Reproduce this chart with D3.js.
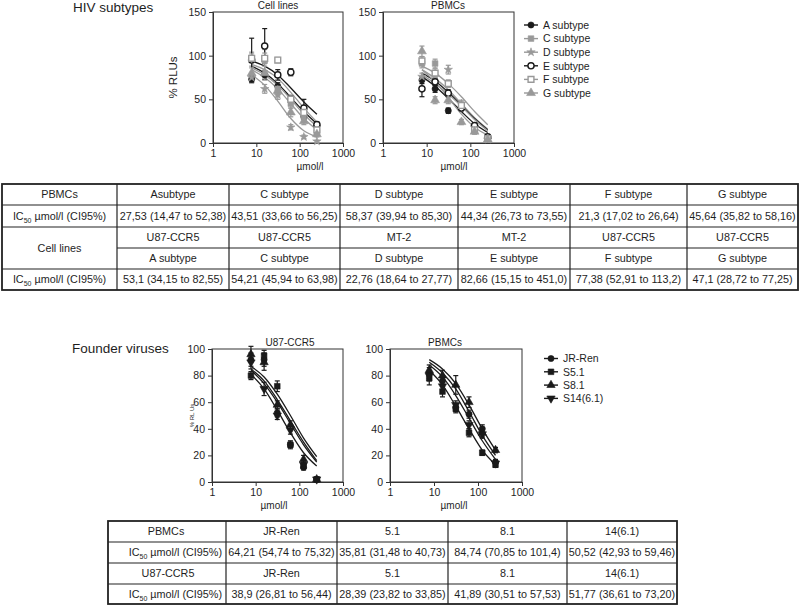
<!DOCTYPE html>
<html><head><meta charset="utf-8">
<script src="https://cdn.jsdelivr.net/npm/d3@7"></script>
<style>
body{margin:0;background:#fff}
svg{display:block}
text{font-family:"Liberation Sans",Arial,Helvetica,sans-serif;fill:#1e1e1e}
</style>
</head><body>
<svg id="chart" width="800" height="605"></svg>
<script>
// ---------- data ----------
const concentrations = [7.8, 15.6, 31.25, 62.5, 125, 250];
const xTicks = [1, 10, 100, 1000];
const yTicksTop = [0, 50, 100, 150];
const yTicksBottom = [0, 20, 40, 60, 80, 100];

const subtypeNames = ["A subtype", "C subtype", "D subtype", "E subtype", "F subtype", "G subtype"];
const founderNames = ["JR-Ren", "S5.1", "S8.1", "S14(6.1)"];

// HIV subtypes – cell lines (% RLUs)
const cellLinesA = [73, 78, 65, 50, 30, 20];
const cellLinesC = [96, 95, 62, 45, 30, 12];
const cellLinesD = [75, 62, 55, 18, 7, 2];
const cellLinesE = [95, 111, 78, 81, 40, 21];
const cellLinesF = [97, 97, 95, 50, 35, 15];
const cellLinesG = [80, 80, 60, 35, 25, 10];
const cellLinesErr = [[4,5,4,4,3,2],[8,12,5,5,4,3],[5,5,5,3,2,1],[25,20,6,4,10,3],[5,6,3,5,4,3],[6,8,6,5,4,3]];
const cellLinesFitA = [88, 80, 68, 52, 36, 22];
const cellLinesFitC = [86, 78, 66, 50, 33, 19];
const cellLinesFitD = [78, 66, 48, 28, 14, 7];
const cellLinesFitE = [94, 88, 78, 63, 47, 33];
const cellLinesFitF = [90, 84, 74, 58, 40, 24];
const cellLinesFitG = [84, 75, 62, 45, 28, 15];

// HIV subtypes – PBMCs (% RLUs)
const pbmcA = [72, 62, 37, 41, 20, 5];
const pbmcC = [91, 91, 68, 41, 18, 6];
const pbmcD = [76, 76, 84, 45, 18, 4];
const pbmcE = [62, 70, 57, 40, 20, 7];
const pbmcF = [94, 80, 68, 43, 15, 5];
const pbmcG = [105, 49, 49, 24, 13, 4];
const pbmcErr = [[4,4,3,3,2,2],[5,5,4,4,3,2],[4,5,5,4,3,2],[9,4,4,3,3,2],[5,5,4,4,3,2],[6,4,4,3,3,2]];
const pbmcFitA = [76, 65, 51, 36, 22, 12];
const pbmcFitC = [84, 74, 61, 45, 29, 16];
const pbmcFitD = [88, 80, 68, 53, 36, 21];
const pbmcFitE = [80, 71, 58, 43, 28, 15];
const pbmcFitF = [84, 70, 52, 33, 18, 9];
const pbmcFitG = [78, 68, 56, 42, 27, 14];

// Founder viruses – U87-CCR5 (% RLUs)
const u87JR = [92, 92, 52, 28, 11, 2];
const u87S5 = [80, 95, 72, 28, 12, 2];
const u87S8 = [96, 90, 58, 43, 17, 2];
const u87S14 = [90, 70, 50, 39, 13, 2];
const u87Err = [[5,5,3,3,2,1],[3,4,4,2,2,1],[6,6,3,3,3,1],[5,5,3,3,2,1]];
const u87FitJR = [84, 74, 60, 44, 28, 15];
const u87FitS5 = [81, 70, 54, 37, 22, 12];
const u87FitS8 = [85, 76, 62, 46, 30, 16];
const u87FitS14 = [87, 79, 66, 50, 33, 19];

// Founder viruses – PBMCs (% RLUs)
const fpbmcJR = [82, 76, 56, 51, 40, 15];
const fpbmcS5 = [78, 68, 55, 37, 22, 13];
const fpbmcS8 = [84, 80, 73, 60, 37, 24];
const fpbmcS14 = [80, 72, 58, 43, 36, 14];
const fpbmcErr = [[4,4,3,3,3,2],[5,4,3,3,2,2],[4,4,7,4,3,2],[4,4,3,3,3,2]];
const fpbmcFitJR = [90, 82, 70, 53, 35, 20];
const fpbmcFitS5 = [84, 73, 57, 40, 24, 13];
const fpbmcFitS8 = [92, 85, 74, 58, 40, 24];
const fpbmcFitS14 = [88, 79, 65, 48, 31, 17];

// tables
const topPbmcHeaders = ["Asubtype", "C subtype", "D subtype", "E subtype", "F subtype", "G subtype"];
const topPbmcIC50 = ["27,53 (14,47 to 52,38)", "43,51 (33,66 to 56,25)", "58,37 (39,94 to 85,30)", "44,34 (26,73 to 73,55)", "21,3 (17,02 to 26,64)", "45,64 (35,82 to 58,16)"];
const topCellHosts = ["U87-CCR5", "U87-CCR5", "MT-2", "MT-2", "U87-CCR5", "U87-CCR5"];
const topCellSubtypes = ["A subtype", "C subtype", "D subtype", "E subtype", "F subtype", "G subtype"];
const topCellIC50 = ["53,1 (34,15 to 82,55)", "54,21 (45,94 to 63,98)", "22,76 (18,64 to 27,77)", "82,66 (15,15 to 451,0)", "77,38 (52,91 to 113,2)", "47,1 (28,72 to 77,25)"];
const bottomHeaders = ["JR-Ren", "5.1", "8.1", "14(6.1)"];
const bottomPbmcIC50 = ["64,21 (54,74 to 75,32)", "35,81 (31,48 to 40,73)", "84,74 (70,85 to 101,4)", "50,52 (42,93 to 59,46)"];
const bottomU87IC50 = ["38,9 (26,81 to 56,44)", "28,39 (23,82 to 33,85)", "41,89 (30,51 to 57,53)", "51,77 (36,61 to 73,20)"];

// ---------- styles ----------
const BLACK = "#1a1a1a", GREY = "#999999";
const subtypeStyles = [
  {color: BLACK, sym: d3.symbolCircle, fill: BLACK, size: 30},
  {color: GREY, sym: d3.symbolSquare, fill: GREY, size: 32},
  {color: GREY, sym: d3.symbolStar, fill: GREY, size: 22},
  {color: BLACK, sym: d3.symbolCircle, fill: "#fff", size: 30, sw: 1.4},
  {color: GREY, sym: d3.symbolSquare, fill: "#fff", size: 34, sw: 1.4},
  {color: GREY, sym: d3.symbolTriangle, fill: GREY, size: 34}
];
const founderStyles = [
  {color: BLACK, sym: d3.symbolCircle, fill: BLACK, size: 30},
  {color: BLACK, sym: d3.symbolSquare, fill: BLACK, size: 32},
  {color: BLACK, sym: d3.symbolTriangle, fill: BLACK, size: 30},
  {color: BLACK, sym: d3.symbolTriangle, fill: BLACK, size: 30, rot: 180}
];

const svg = d3.select("#chart");
svg.append("rect").attr("width", 800).attr("height", 605).attr("fill", "#fff");

function drawPanel(o) {
  const g = svg.append("g");
  const x = d3.scaleLog().domain([1, 1000]).range([o.left, o.right]);
  const y = d3.scaleLinear().domain([0, o.yMax]).range([o.bottom, o.top]);
  g.append("rect").attr("x", o.left).attr("y", o.top)
    .attr("width", o.right - o.left).attr("height", o.bottom - o.top)
    .attr("fill", "none").attr("stroke", "#333").attr("stroke-width", 1);
  const xa = g.append("g").attr("transform", `translate(0,${o.bottom})`)
    .call(d3.axisBottom(x).tickValues(xTicks).tickFormat(d3.format("d")).tickSize(4).tickPadding(3));
  const ya = g.append("g").attr("transform", `translate(${o.left},0)`)
    .call(d3.axisLeft(y).tickValues(o.yTicks).tickSize(4).tickPadding(3));
  [xa, ya].forEach(a => {
    a.select(".domain").attr("stroke", "#333");
    a.selectAll(".tick line").attr("stroke", "#333");
    a.selectAll("text").attr("font-size", 10.5).attr("fill", "#1e1e1e")
      .attr("font-family", '"Liberation Sans",Arial,sans-serif');
  });
  g.append("text").attr("x", o.titleX).attr("y", o.top - 3).attr("text-anchor", "middle")
    .attr("font-size", 10).text(o.title);
  g.append("text").attr("x", o.xLabelX).attr("y", o.bottom + 27).attr("text-anchor", "middle")
    .attr("font-size", 10).text("µmol/l");
  if (o.yLabel) {
    g.append("text").attr("transform", `translate(${o.yLabelX},${(o.top + o.bottom) / 2}) rotate(-90)`)
      .attr("text-anchor", "middle").attr("font-size", o.yLabelSize).text(o.yLabel);
  }
  const line = d3.line().x((d, i) => x(concentrations[i])).y(d => y(d)).curve(d3.curveMonotoneX);
  o.fits.forEach((f, k) => {
    g.append("path").attr("d", line(f)).attr("fill", "none")
      .attr("stroke", o.styles[k].color).attr("stroke-width", 1.3);
  });
  o.points.forEach((s, k) => {
    const st = o.styles[k];
    s.forEach((v, i) => {
      const e = o.errors[k][i];
      const cx = x(concentrations[i]);
      g.append("line").attr("x1", cx).attr("x2", cx).attr("y1", y(v - e)).attr("y2", y(v + e))
        .attr("stroke", st.color).attr("stroke-width", 1.2);
      [v - e, v + e].forEach(t => g.append("line").attr("x1", cx - 2.5).attr("x2", cx + 2.5)
        .attr("y1", y(t)).attr("y2", y(t)).attr("stroke", st.color).attr("stroke-width", 1.2));
    });
  });
  o.points.forEach((s, k) => {
    const st = o.styles[k];
    s.forEach((v, i) => {
      g.append("path").attr("d", d3.symbol().type(st.sym).size(st.size)())
        .attr("transform", `translate(${x(concentrations[i])},${y(v)}) rotate(${st.rot || 0})`)
        .attr("fill", st.fill).attr("stroke", st.color).attr("stroke-width", st.sw || 0.6);
    });
  });
}

function drawLegend(names, styles, lx, ly, step) {
  names.forEach((n, i) => {
    const st = styles[i], yy = ly + i * step;
    svg.append("line").attr("x1", lx - 7).attr("x2", lx + 7).attr("y1", yy).attr("y2", yy)
      .attr("stroke", st.color).attr("stroke-width", 1.4);
    svg.append("path").attr("d", d3.symbol().type(st.sym).size(st.size)())
      .attr("transform", `translate(${lx},${yy}) rotate(${st.rot || 0})`)
      .attr("fill", st.fill).attr("stroke", st.color).attr("stroke-width", st.sw || 0.6);
    svg.append("text").attr("x", lx + 12).attr("y", yy + 3.7).attr("font-size", 10.5).text(n);
  });
}

svg.append("text").attr("x", 73).attr("y", 12).attr("font-size", 13.5).text("HIV subtypes");
svg.append("text").attr("x", 72).attr("y", 353).attr("font-size", 13.5).text("Founder viruses");

drawPanel({left: 213, right: 343, top: 12, bottom: 143, yMax: 150, yTicks: yTicksTop,
  title: "Cell lines", titleX: 278, xLabelX: 310, yLabel: "% RLUs", yLabelX: 177, yLabelSize: 11.5,
  points: [cellLinesA, cellLinesC, cellLinesD, cellLinesE, cellLinesF, cellLinesG],
  errors: cellLinesErr,
  fits: [cellLinesFitA, cellLinesFitC, cellLinesFitD, cellLinesFitE, cellLinesFitF, cellLinesFitG],
  styles: subtypeStyles});
drawPanel({left: 383, right: 514, top: 12, bottom: 143, yMax: 150, yTicks: yTicksTop,
  title: "PBMCs", titleX: 448, xLabelX: 454,
  points: [pbmcA, pbmcC, pbmcD, pbmcE, pbmcF, pbmcG],
  errors: pbmcErr,
  fits: [pbmcFitA, pbmcFitC, pbmcFitD, pbmcFitE, pbmcFitF, pbmcFitG],
  styles: subtypeStyles});
drawLegend(subtypeNames, subtypeStyles, 531, 25, 13.6);

drawPanel({left: 212, right: 343, top: 349, bottom: 482, yMax: 100, yTicks: yTicksBottom,
  title: "U87-CCR5", titleX: 290, xLabelX: 274, yLabel: "% RL Us", yLabelX: 194, yLabelSize: 6,
  points: [u87JR, u87S5, u87S8, u87S14], errors: u87Err,
  fits: [u87FitJR, u87FitS5, u87FitS8, u87FitS14], styles: founderStyles});
drawPanel({left: 390, right: 522, top: 349, bottom: 482, yMax: 100, yTicks: yTicksBottom,
  title: "PBMCs", titleX: 445, xLabelX: 454,
  points: [fpbmcJR, fpbmcS5, fpbmcS8, fpbmcS14], errors: fpbmcErr,
  fits: [fpbmcFitJR, fpbmcFitS5, fpbmcFitS8, fpbmcFitS14], styles: founderStyles});
drawLegend(founderNames, founderStyles, 551, 358.5, 13.3);

// ---------- tables ----------
const TFS = 10.8;
function cellText(cx, cy, txt, anchor) {
  const t = svg.append("text").attr("x", cx).attr("y", cy + 3.9).attr("font-size", TFS)
    .attr("text-anchor", anchor || "middle");
  if (txt === "IC50") {
    t.append("tspan").text("IC");
    t.append("tspan").attr("font-size", 7).attr("dy", 2.6).text("50");
    t.append("tspan").attr("dy", -2.6).text(" µmol/l (CI95%)");
  } else t.text(txt);
}
function drawTable(cols, rows, cells, hLines) {
  const g = svg.append("g");
  hLines.forEach(h => g.append("line").attr("x1", h.x1).attr("x2", cols[cols.length - 1])
    .attr("y1", rows[h.r]).attr("y2", rows[h.r]).attr("stroke", "#222").attr("stroke-width", 1.2));
  cols.slice(1, -1).forEach(c => g.append("line").attr("x1", c).attr("x2", c)
    .attr("y1", rows[0]).attr("y2", rows[rows.length - 1]).attr("stroke", "#222").attr("stroke-width", 1.2));
  g.append("rect").attr("x", cols[0]).attr("y", rows[0])
    .attr("width", cols[cols.length - 1] - cols[0]).attr("height", rows[rows.length - 1] - rows[0])
    .attr("fill", "none").attr("stroke", "#222").attr("stroke-width", 1.8);
  cells.forEach(c => {
    const rs = c.rs || 1;
    const cy = (rows[c.r] + rows[c.r + rs]) / 2;
    const cx = c.ax !== undefined ? c.ax : (cols[c.c] + cols[c.c + 1]) / 2;
    cellText(cx, cy, c.t, c.anchor);
  });
}

const topCols = [2, 117, 229, 340, 458, 570, 687, 798];
const topRows = [184, 205, 227, 248, 269, 290];
const topCells = [];
topCells.push({r: 0, c: 0, t: "PBMCs"});
topPbmcHeaders.forEach((t, i) => topCells.push({r: 0, c: i + 1, t}));
topCells.push({r: 1, c: 0, t: "IC50"});
topPbmcIC50.forEach((t, i) => topCells.push({r: 1, c: i + 1, t}));
topCells.push({r: 2, c: 0, rs: 2, t: "Cell lines"});
topCellHosts.forEach((t, i) => topCells.push({r: 2, c: i + 1, t}));
topCellSubtypes.forEach((t, i) => topCells.push({r: 3, c: i + 1, t}));
topCells.push({r: 4, c: 0, t: "IC50"});
topCellIC50.forEach((t, i) => topCells.push({r: 4, c: i + 1, t}));
drawTable(topCols, topRows, topCells,
  [{r: 1, x1: 2}, {r: 2, x1: 2}, {r: 3, x1: 117}, {r: 4, x1: 2}]);

const botCols = [108, 226, 337, 448, 567, 677];
const botRows = [521, 542, 563, 584, 604];
const botCells = [];
botCells.push({r: 0, c: 0, t: "PBMCs", ax: 166});
bottomHeaders.forEach((t, i) => botCells.push({r: 0, c: i + 1, t}));
botCells.push({r: 1, c: 0, t: "IC50", ax: 222, anchor: "end"});
bottomPbmcIC50.forEach((t, i) => botCells.push({r: 1, c: i + 1, t}));
botCells.push({r: 2, c: 0, t: "U87-CCR5", ax: 168});
bottomHeaders.forEach((t, i) => botCells.push({r: 2, c: i + 1, t}));
botCells.push({r: 3, c: 0, t: "IC50", ax: 222, anchor: "end"});
bottomU87IC50.forEach((t, i) => botCells.push({r: 3, c: i + 1, t}));
drawTable(botCols, botRows, botCells, [{r: 1, x1: 108}, {r: 2, x1: 108}, {r: 3, x1: 108}]);
</script>
</body></html>
